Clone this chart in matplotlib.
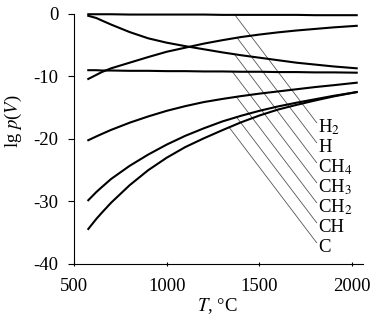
import numpy as np
import matplotlib
matplotlib.use("Agg")
import matplotlib.pyplot as plt

plt.rcParams['font.family'] = ['Liberation Serif', 'DejaVu Serif']
plt.rcParams['mathtext.fontset'] = 'stix'
plt.rcParams['axes.unicode_minus'] = False

# temperature grid, deg C
T = [577, 620, 650, 700, 800, 900, 1000, 1100, 1200, 1300, 1400, 1500, 1600, 1700, 1800, 1900, 2025]

# lg p for each species
lg_H2 = [-0.05, -0.05, -0.05, -0.05, -0.1, -0.1, -0.1, -0.1, -0.1, -0.15, -0.15, -0.15, -0.15, -0.15, -0.2, -0.2, -0.2]
lg_H = [-10.4, -9.75, -9.3, -8.7, -7.8, -6.9, -6.05, -5.4, -4.75, -4.2, -3.7, -3.3, -2.95, -2.65, -2.4, -2.15, -1.9]
lg_CH4 = [-0.3, -0.65, -1.05, -1.7, -2.9, -3.9, -4.6, -5.15, -5.65, -6.15, -6.6, -7.0, -7.4, -7.8, -8.1, -8.4, -8.7]
lg_CH3 = [-9.0, -9.0, -9.05, -9.05, -9.1, -9.1, -9.15, -9.15, -9.2, -9.2, -9.25, -9.25, -9.3, -9.3, -9.35, -9.35, -9.4]
lg_CH2 = [-20.2, -19.6, -19.2, -18.55, -17.4, -16.4, -15.5, -14.75, -14.1, -13.6, -13.15, -12.75, -12.4, -12.05, -11.7, -11.4, -11.0]
lg_CH = [-29.8, -28.5, -27.7, -26.4, -24.3, -22.5, -20.9, -19.5, -18.3, -17.2, -16.3, -15.5, -14.8, -14.2, -13.65, -13.1, -12.5]
lg_C = [-34.4, -32.8, -31.8, -30.2, -27.4, -25.0, -23.0, -21.3, -19.9, -18.6, -17.35, -16.25, -15.3, -14.55, -13.85, -13.2, -12.5]

labels = ['H$_2$', 'H', 'CH$_4$', 'CH$_3$', 'CH$_2$', 'CH', 'C']
series = [lg_H2, lg_H, lg_CH4, lg_CH3, lg_CH2, lg_CH, lg_C]
label_base = [-18.9, -22.1, -25.3, -28.5, -31.7, -34.9, -38.1]

fig = plt.figure(figsize=(3.79, 3.21), dpi=100)
ax = fig.add_axes([0.1953, 0.1776, 0.763, 0.779])

for s in series:
    ax.plot(T, s, color='black', lw=1.5, clip_on=False, zorder=3)

# leader lines, all parallel, from the curve down to the label
t_end = 1809
k = 0.0391
tt = np.linspace(1000, t_end, 2000)
for lab, s, yb in zip(labels, series, label_base):
    y_end = yb + 1.5
    line = y_end + k * (t_end - tt)
    diff = np.interp(tt, T, s) - line
    i = np.where(diff <= 0)[0][-1]
    t0 = tt[i]
    ax.plot([t0, t_end], [np.interp(t0, T, s), y_end], color='#555555', lw=0.6, zorder=2)
    ax.text(1817, yb, lab, fontsize=13.5, ha='left', va='baseline')

ax.set_xlim(500, 2060)
ax.set_ylim(-40, 0)
ax.set_xticks([500, 1000, 1500, 2000])
ax.set_yticks([0, -10, -20, -30, -40])
for sp in ['top', 'right']:
    ax.spines[sp].set_visible(False)
for sp in ['left', 'bottom']:
    ax.spines[sp].set_linewidth(0.8)
ax.tick_params(axis='y', direction='out', length=4, width=0.8, pad=7, labelsize=13.5)
ax.tick_params(axis='x', direction='inout', length=3.5, width=0.8, pad=8, labelsize=13.5)

ax.set_xlabel('$T$, °C', fontsize=13.5)
ax.xaxis.set_label_coords(0.495, -0.13)
ax.set_ylabel('lg $p$($V$)', fontsize=13.5)
ax.yaxis.set_label_coords(-0.173, 0.572)

fig.savefig('out.png', dpi=100)
